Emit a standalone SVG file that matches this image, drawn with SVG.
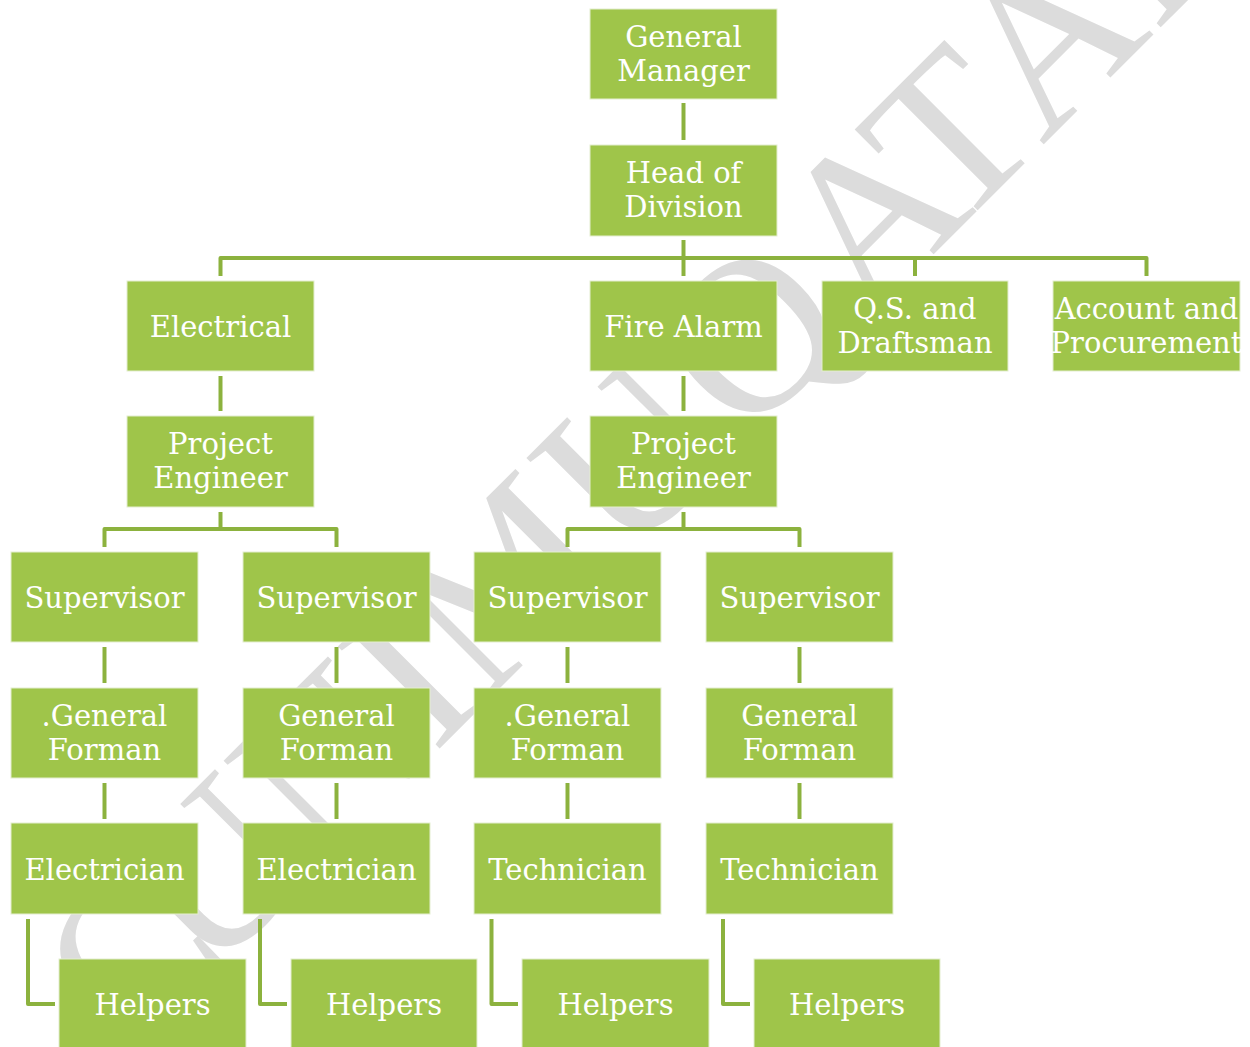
<svg xmlns="http://www.w3.org/2000/svg" width="1250" height="1047" viewBox="0 0 1250 1047">
<style>
.box{fill:#9fc54a;stroke:#e4eed0;stroke-width:1}
.lbl{font-family:"DejaVu Serif","Liberation Serif",serif;font-size:29px;fill:#ffffff;text-anchor:middle}
.conn{stroke:#8cb23e;stroke-width:4;fill:none;stroke-linejoin:round}
.wm{font-family:"Liberation Serif",serif;font-size:220px;fill:#dcdcdc}
</style>
<rect width="1250" height="1047" fill="#ffffff"/>
<g id="watermark">
<text class="wm" transform="translate(130,1058) rotate(-45)" x="0 110 270 430 500 700 870 1040 1165 1290 1450">CUNIMUQATAR</text>
</g>
<g id="connectors">
<path class="conn" d="M683.5,103 V140"/>
<path class="conn" d="M683.5,240 V276"/>
<path class="conn" d="M220.5,276 V258 H1146.5 V276"/>
<path class="conn" d="M915,258 V276"/>
<path class="conn" d="M220.5,376 V411"/>
<path class="conn" d="M683.5,376 V411"/>
<path class="conn" d="M220.5,512 V529"/>
<path class="conn" d="M104.5,547 V529 H336.5 V547"/>
<path class="conn" d="M683.5,512 V529"/>
<path class="conn" d="M567.5,547 V529 H799.5 V547"/>
<path class="conn" d="M104.5,647 V683"/>
<path class="conn" d="M336.5,647 V683"/>
<path class="conn" d="M567.5,647 V683"/>
<path class="conn" d="M799.5,647 V683"/>
<path class="conn" d="M104.5,783 V819"/>
<path class="conn" d="M336.5,783 V819"/>
<path class="conn" d="M567.5,783 V819"/>
<path class="conn" d="M799.5,783 V819"/>
<path class="conn" d="M28,919 V1004 H55"/>
<path class="conn" d="M260,919 V1004 H287"/>
<path class="conn" d="M491.5,919 V1004 H518"/>
<path class="conn" d="M723,919 V1004 H750"/>
</g>
<g id="general-manager"><rect class="box" x="590" y="9" width="187" height="90"/><text class="lbl" x="683.5" y="47">General</text><text class="lbl" x="683.5" y="81">Manager</text></g>
<g id="head-of-division"><rect class="box" x="590" y="145" width="187" height="91"/><text class="lbl" x="683.5" y="183">Head of</text><text class="lbl" x="683.5" y="217">Division</text></g>
<g id="electrical"><rect class="box" x="127" y="281" width="187" height="90"/><text class="lbl" x="220.5" y="337">Electrical</text></g>
<g id="fire-alarm"><rect class="box" x="590" y="281" width="187" height="90"/><text class="lbl" x="683.5" y="337">Fire Alarm</text></g>
<g id="qs-draftsman"><rect class="box" x="822" y="281" width="186" height="90"/><text class="lbl" x="915" y="319">Q.S. and</text><text class="lbl" x="915" y="353">Draftsman</text></g>
<g id="account-procurement"><rect class="box" x="1053" y="281" width="187" height="90"/><text class="lbl" x="1146.5" y="319">Account and</text><text class="lbl" x="1146.5" y="353">Procurement</text></g>
<g id="pe-electrical"><rect class="box" x="127" y="416" width="187" height="91"/><text class="lbl" x="220.5" y="454">Project</text><text class="lbl" x="220.5" y="488">Engineer</text></g>
<g id="pe-fire"><rect class="box" x="590" y="416" width="187" height="91"/><text class="lbl" x="683.5" y="454">Project</text><text class="lbl" x="683.5" y="488">Engineer</text></g>
<g id="supervisor-1"><rect class="box" x="11" y="552" width="187" height="90"/><text class="lbl" x="104.5" y="608">Supervisor</text></g>
<g id="supervisor-2"><rect class="box" x="243" y="552" width="187" height="90"/><text class="lbl" x="336.5" y="608">Supervisor</text></g>
<g id="supervisor-3"><rect class="box" x="474" y="552" width="187" height="90"/><text class="lbl" x="567.5" y="608">Supervisor</text></g>
<g id="supervisor-4"><rect class="box" x="706" y="552" width="187" height="90"/><text class="lbl" x="799.5" y="608">Supervisor</text></g>
<g id="forman-1"><rect class="box" x="11" y="688" width="187" height="90"/><text class="lbl" x="104.5" y="726">.General</text><text class="lbl" x="104.5" y="760">Forman</text></g>
<g id="forman-2"><rect class="box" x="243" y="688" width="187" height="90"/><text class="lbl" x="336.5" y="726">General</text><text class="lbl" x="336.5" y="760">Forman</text></g>
<g id="forman-3"><rect class="box" x="474" y="688" width="187" height="90"/><text class="lbl" x="567.5" y="726">.General</text><text class="lbl" x="567.5" y="760">Forman</text></g>
<g id="forman-4"><rect class="box" x="706" y="688" width="187" height="90"/><text class="lbl" x="799.5" y="726">General</text><text class="lbl" x="799.5" y="760">Forman</text></g>
<g id="electrician-1"><rect class="box" x="11" y="823" width="187" height="91"/><text class="lbl" x="104.5" y="880">Electrician</text></g>
<g id="electrician-2"><rect class="box" x="243" y="823" width="187" height="91"/><text class="lbl" x="336.5" y="880">Electrician</text></g>
<g id="technician-1"><rect class="box" x="474" y="823" width="187" height="91"/><text class="lbl" x="567.5" y="880">Technician</text></g>
<g id="technician-2"><rect class="box" x="706" y="823" width="187" height="91"/><text class="lbl" x="799.5" y="880">Technician</text></g>
<g id="helpers-1"><rect class="box" x="59" y="959" width="187" height="89"/><text class="lbl" x="152.5" y="1015">Helpers</text></g>
<g id="helpers-2"><rect class="box" x="291" y="959" width="186" height="89"/><text class="lbl" x="384" y="1015">Helpers</text></g>
<g id="helpers-3"><rect class="box" x="522" y="959" width="187" height="89"/><text class="lbl" x="615.5" y="1015">Helpers</text></g>
<g id="helpers-4"><rect class="box" x="754" y="959" width="186" height="89"/><text class="lbl" x="847" y="1015">Helpers</text></g>
</svg>
